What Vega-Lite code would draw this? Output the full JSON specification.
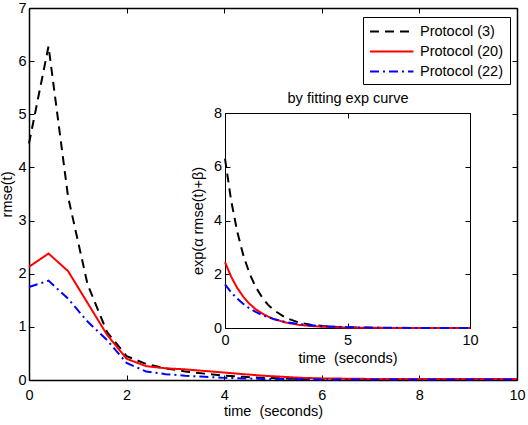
{
  "$schema": "https://vega.github.io/schema/vega-lite/v6.json",
  "width": 488,
  "height": 372,
  "autosize": {"type": "none"},
  "padding": {"left": 29, "top": 8, "right": 11, "bottom": 45},
  "config": {
    "view": {"stroke": null},
    "font": "Liberation Sans",
    "axis": {
      "grid": false,
      "domainColor": "#000",
      "tickColor": "#000",
      "labelColor": "#000",
      "titleColor": "#000",
      "labelFont": "Liberation Sans",
      "titleFont": "Liberation Sans",
      "labelFontSize": 14.5,
      "titleFontSize": 14.5,
      "titleFontWeight": "normal",
      "tickSize": -5,
      "labelFlush": false,
      "labelOverlap": false,
      "labelBound": false
    },
    "legend": {
      "labelFont": "Liberation Sans",
      "labelFontSize": 14.5,
      "labelColor": "#000"
    }
  },
  "datasets": {
    "main": [
      {"t": 0, "v": 4.45, "series": "Protocol (3)"},
      {"t": 0.4, "v": 6.28, "series": "Protocol (3)"},
      {"t": 0.8, "v": 3.45, "series": "Protocol (3)"},
      {"t": 1.2, "v": 1.8, "series": "Protocol (3)"},
      {"t": 1.6, "v": 0.9, "series": "Protocol (3)"},
      {"t": 2.0, "v": 0.45, "series": "Protocol (3)"},
      {"t": 2.4, "v": 0.3, "series": "Protocol (3)"},
      {"t": 2.8, "v": 0.22, "series": "Protocol (3)"},
      {"t": 3.2, "v": 0.16, "series": "Protocol (3)"},
      {"t": 3.6, "v": 0.12, "series": "Protocol (3)"},
      {"t": 4.0, "v": 0.08, "series": "Protocol (3)"},
      {"t": 4.4, "v": 0.06, "series": "Protocol (3)"},
      {"t": 4.8, "v": 0.04, "series": "Protocol (3)"},
      {"t": 5.2, "v": 0.03, "series": "Protocol (3)"},
      {"t": 5.6, "v": 0.02, "series": "Protocol (3)"},
      {"t": 6.0, "v": 0.015, "series": "Protocol (3)"},
      {"t": 7, "v": 0.01, "series": "Protocol (3)"},
      {"t": 8, "v": 0.01, "series": "Protocol (3)"},
      {"t": 9, "v": 0.01, "series": "Protocol (3)"},
      {"t": 10, "v": 0.01, "series": "Protocol (3)"},
      {"t": 0, "v": 2.13, "series": "Protocol (20)"},
      {"t": 0.4, "v": 2.38, "series": "Protocol (20)"},
      {"t": 0.8, "v": 2.05, "series": "Protocol (20)"},
      {"t": 1.2, "v": 1.45, "series": "Protocol (20)"},
      {"t": 1.6, "v": 0.85, "series": "Protocol (20)"},
      {"t": 2.0, "v": 0.4, "series": "Protocol (20)"},
      {"t": 2.4, "v": 0.26, "series": "Protocol (20)"},
      {"t": 2.8, "v": 0.22, "series": "Protocol (20)"},
      {"t": 3.2, "v": 0.2, "series": "Protocol (20)"},
      {"t": 3.6, "v": 0.17, "series": "Protocol (20)"},
      {"t": 4.0, "v": 0.14, "series": "Protocol (20)"},
      {"t": 4.4, "v": 0.11, "series": "Protocol (20)"},
      {"t": 4.8, "v": 0.08, "series": "Protocol (20)"},
      {"t": 5.2, "v": 0.06, "series": "Protocol (20)"},
      {"t": 5.6, "v": 0.04, "series": "Protocol (20)"},
      {"t": 6.0, "v": 0.03, "series": "Protocol (20)"},
      {"t": 7, "v": 0.02, "series": "Protocol (20)"},
      {"t": 8, "v": 0.02, "series": "Protocol (20)"},
      {"t": 9, "v": 0.02, "series": "Protocol (20)"},
      {"t": 10, "v": 0.02, "series": "Protocol (20)"},
      {"t": 0, "v": 1.75, "series": "Protocol (22)"},
      {"t": 0.4, "v": 1.87, "series": "Protocol (22)"},
      {"t": 0.8, "v": 1.53, "series": "Protocol (22)"},
      {"t": 1.2, "v": 1.1, "series": "Protocol (22)"},
      {"t": 1.6, "v": 0.75, "series": "Protocol (22)"},
      {"t": 2.0, "v": 0.32, "series": "Protocol (22)"},
      {"t": 2.4, "v": 0.16, "series": "Protocol (22)"},
      {"t": 2.8, "v": 0.11, "series": "Protocol (22)"},
      {"t": 3.2, "v": 0.08, "series": "Protocol (22)"},
      {"t": 3.6, "v": 0.06, "series": "Protocol (22)"},
      {"t": 4.0, "v": 0.04, "series": "Protocol (22)"},
      {"t": 4.4, "v": 0.03, "series": "Protocol (22)"},
      {"t": 4.8, "v": 0.02, "series": "Protocol (22)"},
      {"t": 5.2, "v": 0.02, "series": "Protocol (22)"},
      {"t": 6, "v": 0.01, "series": "Protocol (22)"},
      {"t": 7, "v": 0.01, "series": "Protocol (22)"},
      {"t": 8, "v": 0.01, "series": "Protocol (22)"},
      {"t": 9, "v": 0.01, "series": "Protocol (22)"},
      {"t": 10, "v": 0.01, "series": "Protocol (22)"}
    ],
    "fit": [
      {"t": 0, "v": 6.3, "series": "Protocol (3)"},
      {"t": 0.25, "v": 4.75, "series": "Protocol (3)"},
      {"t": 0.5, "v": 3.58, "series": "Protocol (3)"},
      {"t": 0.75, "v": 2.7, "series": "Protocol (3)"},
      {"t": 1.0, "v": 2.03, "series": "Protocol (3)"},
      {"t": 1.25, "v": 1.53, "series": "Protocol (3)"},
      {"t": 1.5, "v": 1.16, "series": "Protocol (3)"},
      {"t": 1.75, "v": 0.87, "series": "Protocol (3)"},
      {"t": 2.0, "v": 0.66, "series": "Protocol (3)"},
      {"t": 2.5, "v": 0.37, "series": "Protocol (3)"},
      {"t": 3.0, "v": 0.21, "series": "Protocol (3)"},
      {"t": 3.5, "v": 0.12, "series": "Protocol (3)"},
      {"t": 4.0, "v": 0.07, "series": "Protocol (3)"},
      {"t": 5, "v": 0.02, "series": "Protocol (3)"},
      {"t": 6, "v": 0.007, "series": "Protocol (3)"},
      {"t": 7, "v": 0.002, "series": "Protocol (3)"},
      {"t": 8, "v": 0.001, "series": "Protocol (3)"},
      {"t": 9, "v": 0, "series": "Protocol (3)"},
      {"t": 10, "v": 0, "series": "Protocol (3)"},
      {"t": 0, "v": 2.45, "series": "Protocol (20)"},
      {"t": 0.25, "v": 1.91, "series": "Protocol (20)"},
      {"t": 0.5, "v": 1.49, "series": "Protocol (20)"},
      {"t": 0.75, "v": 1.16, "series": "Protocol (20)"},
      {"t": 1.0, "v": 0.9, "series": "Protocol (20)"},
      {"t": 1.25, "v": 0.7, "series": "Protocol (20)"},
      {"t": 1.5, "v": 0.55, "series": "Protocol (20)"},
      {"t": 1.75, "v": 0.43, "series": "Protocol (20)"},
      {"t": 2.0, "v": 0.33, "series": "Protocol (20)"},
      {"t": 2.5, "v": 0.2, "series": "Protocol (20)"},
      {"t": 3.0, "v": 0.12, "series": "Protocol (20)"},
      {"t": 3.5, "v": 0.074, "series": "Protocol (20)"},
      {"t": 4.0, "v": 0.045, "series": "Protocol (20)"},
      {"t": 5, "v": 0.016, "series": "Protocol (20)"},
      {"t": 6, "v": 0.006, "series": "Protocol (20)"},
      {"t": 7, "v": 0.002, "series": "Protocol (20)"},
      {"t": 8, "v": 0.001, "series": "Protocol (20)"},
      {"t": 9, "v": 0, "series": "Protocol (20)"},
      {"t": 10, "v": 0, "series": "Protocol (20)"},
      {"t": 0, "v": 1.62, "series": "Protocol (22)"},
      {"t": 0.25, "v": 1.33, "series": "Protocol (22)"},
      {"t": 0.5, "v": 1.09, "series": "Protocol (22)"},
      {"t": 0.75, "v": 0.89, "series": "Protocol (22)"},
      {"t": 1.0, "v": 0.73, "series": "Protocol (22)"},
      {"t": 1.25, "v": 0.6, "series": "Protocol (22)"},
      {"t": 1.5, "v": 0.49, "series": "Protocol (22)"},
      {"t": 1.75, "v": 0.4, "series": "Protocol (22)"},
      {"t": 2.0, "v": 0.33, "series": "Protocol (22)"},
      {"t": 2.5, "v": 0.22, "series": "Protocol (22)"},
      {"t": 3.0, "v": 0.15, "series": "Protocol (22)"},
      {"t": 3.5, "v": 0.1, "series": "Protocol (22)"},
      {"t": 4.0, "v": 0.066, "series": "Protocol (22)"},
      {"t": 5, "v": 0.03, "series": "Protocol (22)"},
      {"t": 6, "v": 0.013, "series": "Protocol (22)"},
      {"t": 7, "v": 0.006, "series": "Protocol (22)"},
      {"t": 8, "v": 0.003, "series": "Protocol (22)"},
      {"t": 9, "v": 0.001, "series": "Protocol (22)"},
      {"t": 10, "v": 0, "series": "Protocol (22)"}
    ]
  },
  "layer": [
    {
      "data": {"name": "main"},
      "layer": [
        {
          "mark": {"type": "line", "strokeWidth": 2},
          "encoding": {
            "x": {
              "field": "t", "type": "quantitative",
              "scale": {"domain": [0, 10], "nice": false, "zero": false},
              "axis": {"orient": "bottom", "values": [0, 2, 4, 6, 8, 10], "title": "time \u00a0(seconds)", "domainWidth": 1.5, "labelPadding": 13, "titlePadding": 3}
            },
            "y": {
              "field": "v", "type": "quantitative",
              "scale": {"domain": [0, 7], "nice": false},
              "axis": {"orient": "left", "values": [0, 1, 2, 3, 4, 5, 6, 7], "title": "rmse(t)", "domainWidth": 1.5, "labelPadding": 8, "titlePadding": 3}
            },
            "color": {
              "field": "series", "type": "nominal",
              "scale": {"domain": ["Protocol (3)", "Protocol (20)", "Protocol (22)"], "range": ["#000000", "#ff0000", "#0000ff"]},
              "legend": {
                "title": null, "orient": "none", "legendX": 334, "legendY": 9,
                "symbolType": "M-1,0H4.8", "symbolSize": 225, "symbolStrokeWidth": 2,
                "strokeColor": "#000", "fillColor": "#fff", "padding": 6, "rowPadding": 5,
                "labelOffset": 34
              }
            },
            "strokeDash": {
              "field": "series", "type": "nominal",
              "scale": {"domain": ["Protocol (3)", "Protocol (20)", "Protocol (22)"], "range": [[9, 6], [1, 0], [9, 4, 2, 4]]},
              "legend": {
                "title": null, "orient": "none", "legendX": 334, "legendY": 9,
                "symbolType": "M-1,0H4.8", "symbolSize": 225, "symbolStrokeWidth": 2,
                "strokeColor": "#000", "fillColor": "#fff", "padding": 6, "rowPadding": 5,
                "labelOffset": 34
              }
            }
          }
        },
        {
          "mark": {"type": "point", "opacity": 0},
          "encoding": {
            "x": {
              "field": "t", "type": "quantitative",
              "scale": {"domain": [0, 10], "nice": false, "zero": false},
              "axis": {"orient": "top", "values": [0, 2, 4, 6, 8, 10], "labels": false, "title": null, "domainWidth": 1.5}
            },
            "y": {
              "field": "v", "type": "quantitative",
              "scale": {"domain": [0, 7], "nice": false},
              "axis": {"orient": "right", "values": [0, 1, 2, 3, 4, 5, 6, 7], "labels": false, "title": null, "domainWidth": 1.5}
            }
          }
        }
      ],
      "resolve": {"axis": {"x": "independent", "y": "independent"}}
    },
    {
      "data": {"name": "fit"},
      "layer": [
        {
          "mark": {"type": "line", "strokeWidth": 2},
          "encoding": {
            "x": {
              "field": "t", "type": "quantitative",
              "scale": {"domain": [0, 10], "nice": false, "zero": false, "range": [196, 441]},
              "axis": {"orient": "bottom", "offset": -52, "values": [0, 5, 10], "title": "time \u00a0(seconds)", "labelPadding": 10, "titlePadding": 5}
            },
            "y": {
              "field": "v", "type": "quantitative",
              "scale": {"domain": [0, 8], "nice": false, "range": [320, 105]},
              "axis": {"orient": "left", "offset": -196, "values": [0, 2, 4, 6, 8], "title": "exp(α rmse(t)+β)", "labelPadding": 8.5, "titlePadding": 8}
            },
            "color": {"field": "series", "type": "nominal", "legend": null},
            "strokeDash": {"field": "series", "type": "nominal", "legend": null}
          }
        },
        {
          "mark": {"type": "point", "opacity": 0},
          "encoding": {
            "x": {
              "field": "t", "type": "quantitative",
              "scale": {"domain": [0, 10], "nice": false, "zero": false, "range": [196, 441]},
              "axis": {"orient": "top", "offset": -105, "values": [0, 5, 10], "labels": false, "title": "by fitting exp curve", "titlePadding": 7}
            },
            "y": {
              "field": "v", "type": "quantitative",
              "scale": {"domain": [0, 8], "nice": false, "range": [320, 105]},
              "axis": {"orient": "right", "offset": -47, "values": [0, 2, 4, 6, 8], "labels": false, "title": null}
            }
          }
        }
      ],
      "resolve": {"axis": {"x": "independent", "y": "independent"}}
    }
  ],
  "resolve": {"scale": {"x": "independent", "y": "independent"}}
}
